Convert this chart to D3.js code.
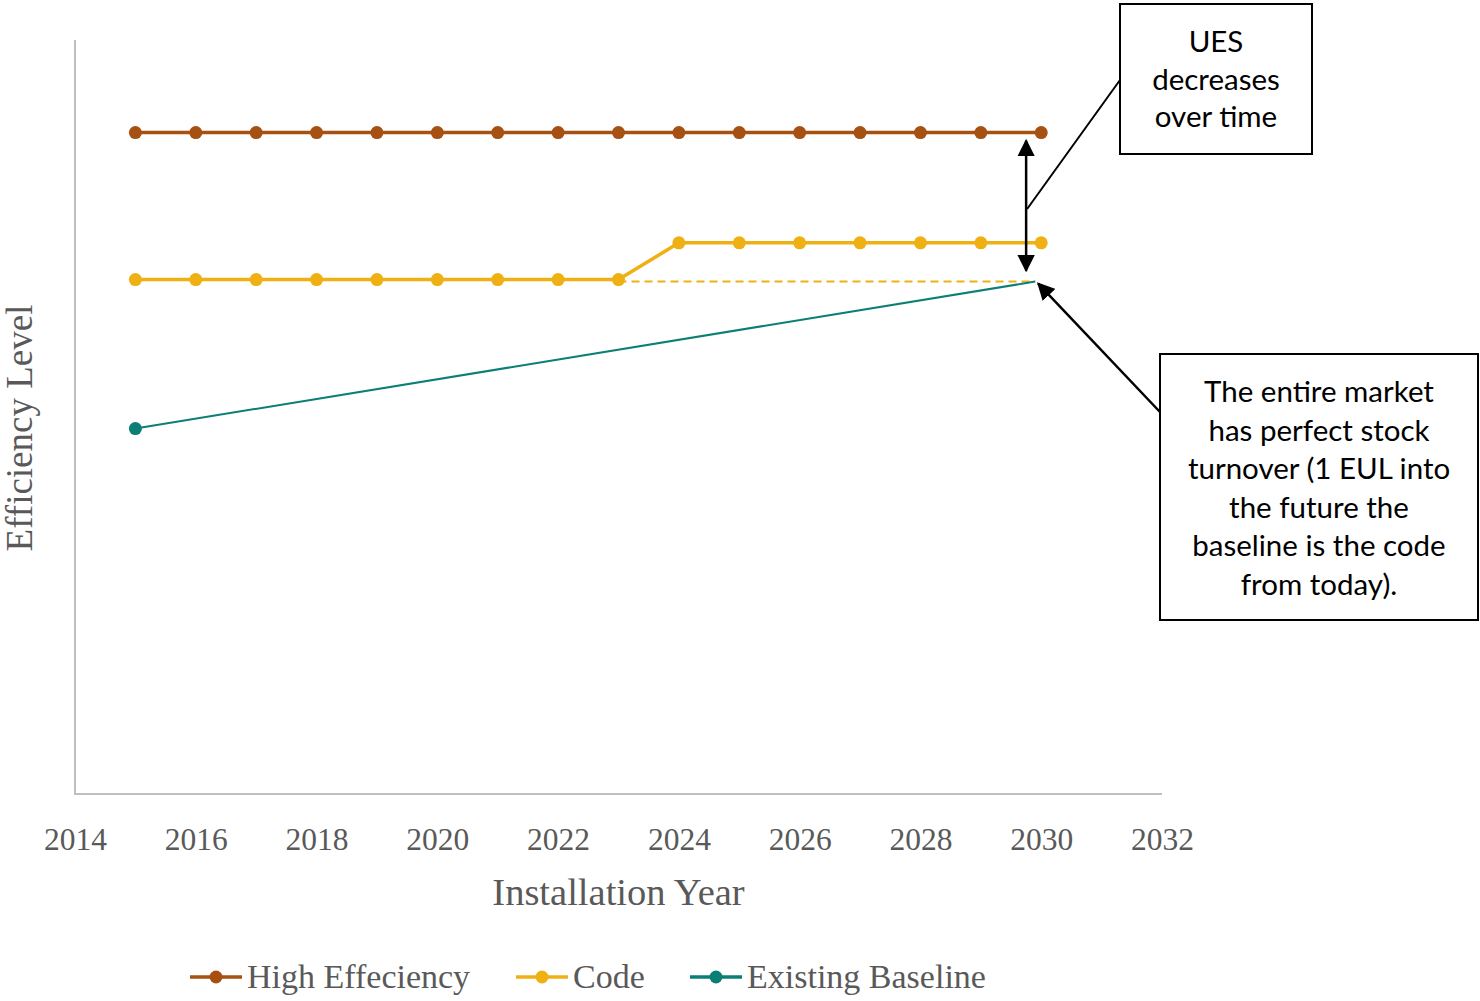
<!DOCTYPE html>
<html>
<head>
<meta charset="utf-8">
<script src="https://cdn.jsdelivr.net/npm/d3@7"></script>
<style>
  html, body { margin: 0; padding: 0; background: #fff; }
  svg { display: block; }
</style>
</head>
<body>
<svg id="chart" width="1480" height="1001"></svg>
<script>
// Installation years and efficiency levels for each scenario
const years = [2015, 2016, 2017, 2018, 2019, 2020, 2021, 2022, 2023, 2024, 2025, 2026, 2027, 2028, 2029, 2030];
const highEfficiency = [90, 90, 90, 90, 90, 90, 90, 90, 90, 90, 90, 90, 90, 90, 90, 90];
const code = [70, 70, 70, 70, 70, 70, 70, 70, 70, 75, 75, 75, 75, 75, 75, 75];
const baselineYears = [2015, 2029.9];
const existingBaseline = [50, 70];
const codeCarryYears = [2023, 2029.9];
const codeCarry = [70, 70];
const xTicks = [2014, 2016, 2018, 2020, 2022, 2024, 2026, 2028, 2030, 2032];

const seriesNames = ["High Effeciency", "Code", "Existing Baseline"];
const seriesColors = ["#A65011", "#EFB013", "#0B7F76"];

const svg = d3.select("#chart");
const margin = { left: 75, right: 318, top: 40, bottom: 207 };
const W = 1480, H = 1001;

const x = d3.scaleLinear().domain([2014, 2032]).range([margin.left, W - margin.right]);
const y = d3.scaleLinear().domain([0, 102.6]).range([H - margin.bottom, margin.top]);

const serif = "'Liberation Serif', 'DejaVu Serif', serif";
const sans = "Lato, 'Open Sans', sans-serif";
const grey = "#595959";
const axisGrey = "#BFBFBF";

// Axes: plain light-grey lines, year labels below
const xAxis = d3.axisBottom(x).tickValues(xTicks).tickFormat(d3.format("d")).tickSize(0).tickPadding(34);
const gx = svg.append("g").attr("transform", `translate(0,${y(0)})`).call(xAxis);
gx.select(".domain").attr("stroke", axisGrey).attr("stroke-width", 2).attr("d", `M${x(2014) - 1},0H${x(2032)}`);
gx.selectAll("text").attr("font-family", serif).attr("font-size", 31.5).attr("fill", grey).attr("dy", "0.71em");

svg.append("line")
  .attr("x1", x(2014)).attr("x2", x(2014))
  .attr("y1", y(0)).attr("y2", y(102.6))
  .attr("stroke", axisGrey).attr("stroke-width", 2);

// Axis titles
svg.append("text")
  .attr("x", (x(2014) + x(2032)) / 2).attr("y", 905)
  .attr("text-anchor", "middle")
  .attr("font-family", serif).attr("font-size", 38.5).attr("fill", grey)
  .text("Installation Year");

svg.append("text")
  .attr("transform", `translate(32,${(y(0) + y(102.6)) / 2 + 11}) rotate(-90)`)
  .attr("text-anchor", "middle")
  .attr("font-family", serif).attr("font-size", 37).attr("fill", grey)
  .text("Efficiency Level");

const line = d3.line().x(d => x(d[0])).y(d => y(d[1]));

// Code carried forward from 2023 (dashed)
svg.append("path")
  .datum(d3.zip(codeCarryYears, codeCarry))
  .attr("d", line).attr("fill", "none")
  .attr("stroke", seriesColors[1]).attr("stroke-width", 2).attr("stroke-dasharray", "8,5")
  .attr("transform", "translate(0,2)");

// Existing baseline
svg.append("path")
  .datum(d3.zip(baselineYears, existingBaseline))
  .attr("d", line).attr("fill", "none")
  .attr("stroke", seriesColors[2]).attr("stroke-width", 2)
  .attr("transform", "translate(0,2)");
svg.append("circle")
  .attr("cx", x(baselineYears[0])).attr("cy", y(existingBaseline[0]) + 2).attr("r", 6.5)
  .attr("fill", seriesColors[2]);

// High efficiency and code series with markers
[[highEfficiency, seriesColors[0]], [code, seriesColors[1]]].forEach(([vals, color]) => {
  const pts = d3.zip(years, vals);
  svg.append("path").datum(pts).attr("d", line).attr("fill", "none")
    .attr("stroke", color).attr("stroke-width", 3.5);
  svg.append("g").selectAll("circle").data(pts).join("circle")
    .attr("cx", d => x(d[0])).attr("cy", d => y(d[1])).attr("r", 6.5)
    .attr("fill", color);
});

// Annotation arrows
const defs = svg.append("defs");
defs.append("marker")
  .attr("id", "head").attr("viewBox", "0 0 10 10")
  .attr("refX", 9).attr("refY", 5)
  .attr("markerWidth", 7).attr("markerHeight", 7)
  .attr("markerUnits", "strokeWidth")
  .attr("orient", "auto-start-reverse")
  .append("path").attr("d", "M0,0L10,5L0,10z").attr("fill", "#000");

const arrowX = x(2029.75);
svg.append("line")
  .attr("x1", arrowX).attr("x2", arrowX)
  .attr("y1", y(highEfficiency[15]) + 8).attr("y2", y(codeCarry[1]) - 9)
  .attr("stroke", "#000").attr("stroke-width", 2.5)
  .attr("marker-start", "url(#head)").attr("marker-end", "url(#head)");

// Connector to "UES decreases" box
const box1 = { x: 1120, y: 4, w: 192, h: 150 };
svg.append("line")
  .attr("x1", arrowX + 1).attr("y1", 209)
  .attr("x2", box1.x).attr("y2", 80)
  .attr("stroke", "#000").attr("stroke-width", 2);

// Arrow from the market box to the baseline end point
const box2 = { x: 1160, y: 354, w: 318, h: 266 };
svg.append("line")
  .attr("x1", box2.x).attr("y1", 412)
  .attr("x2", x(baselineYears[1]) + 3).attr("y2", y(existingBaseline[1]) + 4)
  .attr("stroke", "#000").attr("stroke-width", 2.5)
  .attr("marker-end", "url(#head)");

function textBox(b, lines, firstY, lh) {
  svg.append("rect").attr("x", b.x).attr("y", b.y).attr("width", b.w).attr("height", b.h)
    .attr("fill", "#fff").attr("stroke", "#000").attr("stroke-width", 2);
  const t = svg.append("text").attr("font-family", sans).attr("font-size", 29.5)
    .attr("fill", "#000").attr("text-anchor", "middle");
  lines.forEach((s, i) => {
    t.append("tspan").attr("x", b.x + b.w / 2).attr("y", firstY + i * lh).text(s);
  });
}
textBox(box1, ["UES", "decreases", "over time"], 52, 37.7);
textBox(box2, ["The entire market", "has perfect stock", "turnover  (1 EUL into", "the future the", "baseline is the code", "from today)."], 402, 38.5);

// Legend
const legendX = [190, 516, 690];
const legendY = 977;
seriesNames.forEach((name, i) => {
  const g = svg.append("g").attr("transform", `translate(${legendX[i]},${legendY})`);
  g.append("line").attr("x1", 0).attr("x2", 52).attr("stroke", seriesColors[i]).attr("stroke-width", 3.5);
  g.append("circle").attr("cx", 26).attr("r", 6.5).attr("fill", seriesColors[i]);
  g.append("text").attr("x", 57).attr("y", 11)
    .attr("font-family", serif).attr("font-size", 34).attr("fill", grey).text(name);
});
</script>
</body>
</html>
